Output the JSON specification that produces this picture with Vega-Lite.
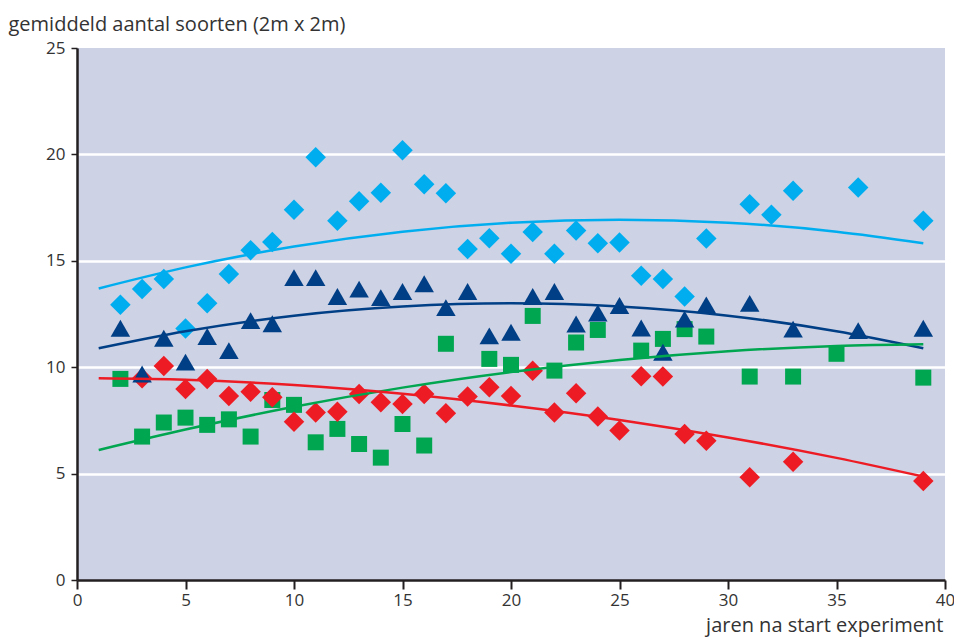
{
  "$schema": "https://vega.github.io/schema/vega-lite/v6.json",
  "width": 868,
  "height": 532,
  "autosize": {"type": "none"},
  "padding": {"left": 77, "top": 48, "right": 9, "bottom": 61},
  "background": "white",
  "config": {"view": {"fill": "#cdd2e5", "stroke": null}, "font": "Open Sans"},
  "datasets": {
    "points": [
      {"series": "lb", "x": 2, "y": 12.93}, {"series": "lb", "x": 3, "y": 13.68}, {"series": "lb", "x": 4, "y": 14.15}, {"series": "lb", "x": 5, "y": 11.82}, {"series": "lb", "x": 6, "y": 13.0}, {"series": "lb", "x": 7, "y": 14.38}, {"series": "lb", "x": 8, "y": 15.5}, {"series": "lb", "x": 9, "y": 15.88}, {"series": "lb", "x": 10, "y": 17.4}, {"series": "lb", "x": 11, "y": 19.87}, {"series": "lb", "x": 12, "y": 16.88}, {"series": "lb", "x": 13, "y": 17.8}, {"series": "lb", "x": 14, "y": 18.2}, {"series": "lb", "x": 15, "y": 20.2}, {"series": "lb", "x": 16, "y": 18.6}, {"series": "lb", "x": 17, "y": 18.18}, {"series": "lb", "x": 18, "y": 15.55}, {"series": "lb", "x": 19, "y": 16.06}, {"series": "lb", "x": 20, "y": 15.33}, {"series": "lb", "x": 21, "y": 16.35}, {"series": "lb", "x": 22, "y": 15.33}, {"series": "lb", "x": 23, "y": 16.42}, {"series": "lb", "x": 24, "y": 15.83}, {"series": "lb", "x": 25, "y": 15.86}, {"series": "lb", "x": 26, "y": 14.3}, {"series": "lb", "x": 27, "y": 14.14}, {"series": "lb", "x": 28, "y": 13.32}, {"series": "lb", "x": 29, "y": 16.05}, {"series": "lb", "x": 31, "y": 17.66}, {"series": "lb", "x": 32, "y": 17.16}, {"series": "lb", "x": 33, "y": 18.29}, {"series": "lb", "x": 36, "y": 18.45}, {"series": "lb", "x": 39, "y": 16.88},
      {"series": "db", "x": 2, "y": 11.83}, {"series": "db", "x": 3, "y": 9.68}, {"series": "db", "x": 4, "y": 11.36}, {"series": "db", "x": 5, "y": 10.24}, {"series": "db", "x": 6, "y": 11.44}, {"series": "db", "x": 7, "y": 10.78}, {"series": "db", "x": 8, "y": 12.19}, {"series": "db", "x": 9, "y": 12.04}, {"series": "db", "x": 10, "y": 14.21}, {"series": "db", "x": 11, "y": 14.21}, {"series": "db", "x": 12, "y": 13.32}, {"series": "db", "x": 13, "y": 13.67}, {"series": "db", "x": 14, "y": 13.27}, {"series": "db", "x": 15, "y": 13.56}, {"series": "db", "x": 16, "y": 13.92}, {"series": "db", "x": 17, "y": 12.8}, {"series": "db", "x": 18, "y": 13.56}, {"series": "db", "x": 19, "y": 11.47}, {"series": "db", "x": 20, "y": 11.64}, {"series": "db", "x": 21, "y": 13.32}, {"series": "db", "x": 22, "y": 13.56}, {"series": "db", "x": 23, "y": 12.03}, {"series": "db", "x": 24, "y": 12.55}, {"series": "db", "x": 25, "y": 12.9}, {"series": "db", "x": 26, "y": 11.84}, {"series": "db", "x": 27, "y": 10.7}, {"series": "db", "x": 28, "y": 12.26}, {"series": "db", "x": 29, "y": 12.93}, {"series": "db", "x": 31, "y": 13.0}, {"series": "db", "x": 33, "y": 11.79}, {"series": "db", "x": 36, "y": 11.72}, {"series": "db", "x": 39, "y": 11.83},
      {"series": "gr", "x": 2, "y": 9.45}, {"series": "gr", "x": 3, "y": 6.74}, {"series": "gr", "x": 4, "y": 7.4}, {"series": "gr", "x": 5, "y": 7.63}, {"series": "gr", "x": 6, "y": 7.29}, {"series": "gr", "x": 7, "y": 7.55}, {"series": "gr", "x": 8, "y": 6.74}, {"series": "gr", "x": 9, "y": 8.46}, {"series": "gr", "x": 10, "y": 8.23}, {"series": "gr", "x": 11, "y": 6.47}, {"series": "gr", "x": 12, "y": 7.1}, {"series": "gr", "x": 13, "y": 6.39}, {"series": "gr", "x": 14, "y": 5.75}, {"series": "gr", "x": 15, "y": 7.33}, {"series": "gr", "x": 16, "y": 6.32}, {"series": "gr", "x": 17, "y": 11.1}, {"series": "gr", "x": 19, "y": 10.39}, {"series": "gr", "x": 20, "y": 10.11}, {"series": "gr", "x": 21, "y": 12.41}, {"series": "gr", "x": 22, "y": 9.84}, {"series": "gr", "x": 23, "y": 11.16}, {"series": "gr", "x": 24, "y": 11.75}, {"series": "gr", "x": 26, "y": 10.78}, {"series": "gr", "x": 27, "y": 11.33}, {"series": "gr", "x": 28, "y": 11.79}, {"series": "gr", "x": 29, "y": 11.44}, {"series": "gr", "x": 31, "y": 9.56}, {"series": "gr", "x": 33, "y": 9.56}, {"series": "gr", "x": 35, "y": 10.63}, {"series": "gr", "x": 39, "y": 9.51},
      {"series": "rd", "x": 3, "y": 9.48}, {"series": "rd", "x": 4, "y": 10.06}, {"series": "rd", "x": 5, "y": 8.97}, {"series": "rd", "x": 6, "y": 9.44}, {"series": "rd", "x": 7, "y": 8.65}, {"series": "rd", "x": 8, "y": 8.85}, {"series": "rd", "x": 9, "y": 8.59}, {"series": "rd", "x": 10, "y": 7.44}, {"series": "rd", "x": 11, "y": 7.87}, {"series": "rd", "x": 12, "y": 7.91}, {"series": "rd", "x": 13, "y": 8.74}, {"series": "rd", "x": 14, "y": 8.35}, {"series": "rd", "x": 15, "y": 8.27}, {"series": "rd", "x": 16, "y": 8.74}, {"series": "rd", "x": 17, "y": 7.84}, {"series": "rd", "x": 18, "y": 8.62}, {"series": "rd", "x": 19, "y": 9.06}, {"series": "rd", "x": 20, "y": 8.65}, {"series": "rd", "x": 21, "y": 9.83}, {"series": "rd", "x": 22, "y": 7.87}, {"series": "rd", "x": 23, "y": 8.78}, {"series": "rd", "x": 24, "y": 7.68}, {"series": "rd", "x": 25, "y": 7.02}, {"series": "rd", "x": 26, "y": 9.57}, {"series": "rd", "x": 27, "y": 9.56}, {"series": "rd", "x": 28, "y": 6.86}, {"series": "rd", "x": 29, "y": 6.54}, {"series": "rd", "x": 31, "y": 4.83}, {"series": "rd", "x": 33, "y": 5.56}, {"series": "rd", "x": 39, "y": 4.65}
    ],
    "curves": [
      {"series": "lb", "x": 1, "y": 13.7}, {"series": "lb", "x": 5, "y": 14.69}, {"series": "lb", "x": 10, "y": 15.67}, {"series": "lb", "x": 15, "y": 16.37}, {"series": "lb", "x": 20, "y": 16.79}, {"series": "lb", "x": 25, "y": 16.93}, {"series": "lb", "x": 30, "y": 16.79}, {"series": "lb", "x": 35, "y": 16.37}, {"series": "lb", "x": 39, "y": 15.83},
      {"series": "db", "x": 1, "y": 10.89}, {"series": "db", "x": 5, "y": 11.69}, {"series": "db", "x": 10, "y": 12.42}, {"series": "db", "x": 15, "y": 12.85}, {"series": "db", "x": 20, "y": 13.0}, {"series": "db", "x": 25, "y": 12.85}, {"series": "db", "x": 30, "y": 12.42}, {"series": "db", "x": 35, "y": 11.69}, {"series": "db", "x": 39, "y": 10.89},
      {"series": "gr", "x": 1, "y": 6.11}, {"series": "gr", "x": 5, "y": 7.07}, {"series": "gr", "x": 10, "y": 8.14}, {"series": "gr", "x": 15, "y": 9.04}, {"series": "gr", "x": 20, "y": 9.77}, {"series": "gr", "x": 25, "y": 10.34}, {"series": "gr", "x": 30, "y": 10.75}, {"series": "gr", "x": 35, "y": 11.0}, {"series": "gr", "x": 39, "y": 11.08},
      {"series": "rd", "x": 1, "y": 9.48}, {"series": "rd", "x": 5, "y": 9.41}, {"series": "rd", "x": 10, "y": 9.16}, {"series": "rd", "x": 15, "y": 8.75}, {"series": "rd", "x": 20, "y": 8.2}, {"series": "rd", "x": 25, "y": 7.52}, {"series": "rd", "x": 30, "y": 6.7}, {"series": "rd", "x": 35, "y": 5.74}, {"series": "rd", "x": 39, "y": 4.86}
    ]
  },
  "encoding": {
    "x": {
      "field": "x", "type": "quantitative",
      "scale": {"domain": [0, 40], "nice": false, "zero": false},
      "axis": {
        "values": [0, 5, 10, 15, 20, 25, 30, 35, 40],
        "grid": false,
        "tickSize": 9, "tickWidth": 2, "tickColor": "#231f20",
        "domainColor": "#231f20", "domainWidth": 2.5,
        "labelFontSize": 17, "labelColor": "#333333", "labelPadding": 3, "labelFlush": false,
        "title": "jaren na start experiment",
        "titleFontSize": 20, "titleFontWeight": "normal", "titleColor": "#333333",
        "titleAnchor": "end", "titleAlign": "right", "titleBaseline": "alphabetic",
        "titleX": 866, "titleY": 51
      }
    },
    "y": {
      "field": "y", "type": "quantitative",
      "scale": {"domain": [0, 25], "nice": false},
      "axis": {
        "values": [0, 5, 10, 15, 20, 25],
        "grid": true, "gridColor": "#ffffff", "gridWidth": 2.5,
        "gridOpacity": {"condition": {"test": "datum.value === 25 || datum.value === 0", "value": 0}, "value": 1},
        "tickSize": 6, "tickWidth": 1.5, "tickColor": "#231f20",
        "domainColor": "#231f20", "domainWidth": 2.5,
        "labelFontSize": 17, "labelColor": "#333333", "labelPadding": 6,
        "title": "gemiddeld aantal soorten (2m x 2m)",
        "titleFontSize": 20, "titleFontWeight": "normal", "titleColor": "#333333",
        "titleAngle": 0, "titleAlign": "left", "titleBaseline": "alphabetic",
        "titleX": -69, "titleY": -18
      }
    }
  },
  "layer": [
    {"data": {"name": "points"}, "transform": [{"filter": "datum.series === 'gr'"}],
     "mark": {"type": "point", "shape": "square", "filled": true, "opacity": 1, "size": 256, "color": "#00a650", "strokeWidth": 0}},
    {"data": {"name": "points"}, "transform": [{"filter": "datum.series === 'rd'"}],
     "mark": {"type": "point", "shape": "diamond", "filled": true, "opacity": 1, "size": 420, "color": "#ed1c24", "strokeWidth": 0}},
    {"data": {"name": "points"}, "transform": [{"filter": "datum.series === 'lb'"}],
     "mark": {"type": "point", "shape": "diamond", "filled": true, "opacity": 1, "size": 420, "color": "#00aeef", "strokeWidth": 0}},
    {"data": {"name": "points"}, "transform": [{"filter": "datum.series === 'db'"}],
     "mark": {"type": "point", "shape": "triangle-up", "filled": true, "opacity": 1, "size": 380, "color": "#003f85", "strokeWidth": 0}},
    {"data": {"name": "curves"},
     "mark": {"type": "line", "strokeWidth": 2.5, "interpolate": "monotone"},
     "encoding": {
       "detail": {"field": "series"},
       "color": {"field": "series", "type": "nominal", "legend": null,
                 "scale": {"domain": ["lb", "db", "gr", "rd"], "range": ["#00aeef", "#003f85", "#00a650", "#ed1c24"]}}
     }}
  ]
}
